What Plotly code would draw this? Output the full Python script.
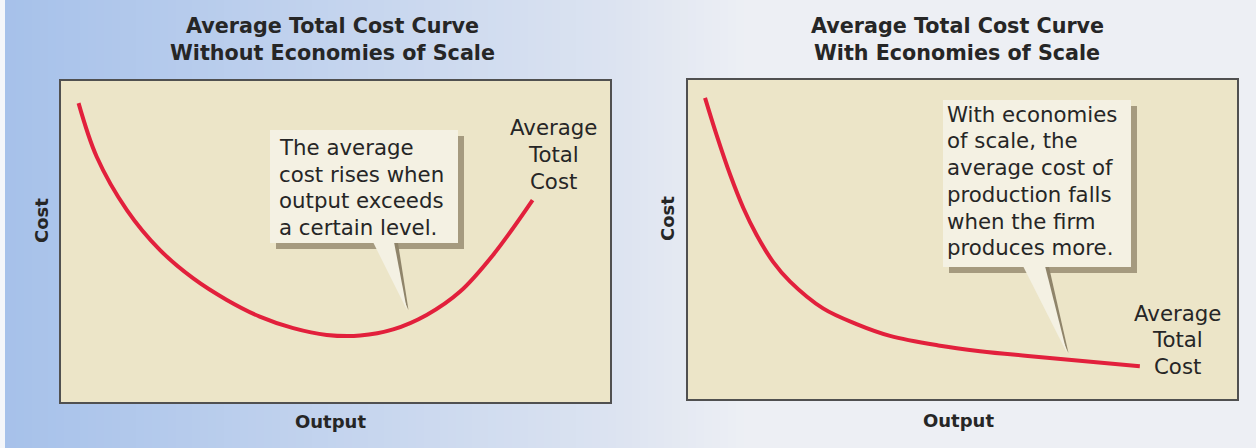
import plotly.graph_objects as go

# ---------------- data ----------------
# Left panel: U-shaped average total cost (no economies of scale)
left_output = [3.2, 6.5, 12.0, 18.0, 24.1, 30.2, 36.2, 42.3, 48.4, 54.5, 60.5, 66.6, 72.7, 78.7, 85.9]
left_cost = [93.1, 76.4, 59.8, 47.4, 38.5, 31.8, 26.6, 23.0, 20.9, 20.7, 22.6, 27.1, 34.4, 45.8, 62.9]

# Right panel: falling average total cost (economies of scale)
right_output = [3.1, 5.2, 7.7, 10.1, 12.5, 15.5, 18.6, 24.6, 30.7, 36.8, 45.6, 53.2, 61.9, 82.3]
right_cost = [94.4, 82.8, 70.2, 59.8, 51.4, 43.0, 36.8, 28.4, 23.5, 19.8, 16.8, 15.0, 13.5, 10.3]

title_lines = [["Average Total Cost Curve", "Without Economies of Scale"],
               ["Average Total Cost Curve", "With Economies of Scale"]]
callout_lines = [["The average", "cost rises when", "output exceeds", "a certain level."],
                 ["With economies", "of scale, the", "average cost of", "production falls",
                  "when the firm", "produces more."]]
curve_label_lines = ["Average", "Total", "Cost"]
x_title = "Output"
y_title = "Cost"

# ---------------- layout helpers ----------------
W, H = 1256, 448


def px(x):
    return x / W


def py(y):
    return 1 - y / H


RED = "#e2203c"
PLOT_BG = "#ece5c8"
CALLOUT_BG = "#f4f1e3"
SHADOW = "#a59a7f"
TEXT = "#262626"
FRAME = "#505050"
FONT = "DejaVu Sans, Verdana, sans-serif"

fig = go.Figure()
fig.add_trace(go.Scatter(x=left_output, y=left_cost, mode="lines",
                         line=dict(color=RED, width=4, shape="spline", smoothing=1.0),
                         xaxis="x", yaxis="y", hoverinfo="skip", showlegend=False))
fig.add_trace(go.Scatter(x=right_output, y=right_cost, mode="lines",
                         line=dict(color=RED, width=4, shape="spline", smoothing=1.0),
                         xaxis="x2", yaxis="y2", hoverinfo="skip", showlegend=False))

shapes = []

# background gradient (blue on left fading to light grey on right)
c0 = (166, 193, 234)
c1 = (221, 228, 241)
c2 = (237, 239, 244)
step = 8
x = 0
while x < W:
    if x <= 620:
        t = x / 620
        c = tuple(int(round(a + (b - a) * t)) for a, b in zip(c0, c1))
    elif x <= 740:
        t = (x - 620) / 120
        c = tuple(int(round(a + (b - a) * t)) for a, b in zip(c1, c2))
    else:
        c = c2
    shapes.append(dict(type="rect", xref="paper", yref="paper", x0=px(x), x1=px(x + step + 1),
                       y0=0, y1=1, fillcolor="rgb(%d,%d,%d)" % c, line=dict(width=0),
                       layer="below"))
    x += step
shapes.append(dict(type="rect", xref="paper", yref="paper", x0=0, x1=px(5), y0=0, y1=1,
                   fillcolor="#f4f6fa", line=dict(width=0), layer="below"))

# beige plot areas
for xr, yr in [("x domain", "y domain"), ("x2 domain", "y2 domain")]:
    shapes.append(dict(type="rect", xref=xr, yref=yr, x0=0, x1=1, y0=0, y1=1,
                       fillcolor=PLOT_BG, line=dict(width=0), layer="below"))


def callout(box, base, tip):
    x0, y0, x1, y1 = box
    sh = 6
    out = []
    out.append(dict(type="rect", xref="paper", yref="paper",
                    x0=px(x0 + sh), x1=px(x1 + sh), y0=py(y0 + sh), y1=py(y1 + sh),
                    fillcolor=SHADOW, line=dict(width=0), layer="above"))
    bl, br = base
    out.append(dict(type="path", xref="paper", yref="paper",
                    path="M %f,%f L %f,%f L %f,%f Z" % (px(bl + 4), py(y1), px(br + 4), py(y1),
                                                        px(tip[0] + 1.5), py(tip[1])),
                    fillcolor="#8f846a", line=dict(width=0), layer="above"))
    out.append(dict(type="rect", xref="paper", yref="paper",
                    x0=px(x0), x1=px(x1), y0=py(y0), y1=py(y1),
                    fillcolor=CALLOUT_BG, line=dict(width=0), layer="above"))
    out.append(dict(type="path", xref="paper", yref="paper",
                    path="M %f,%f L %f,%f L %f,%f Z" % (px(bl), py(y1 - 1), px(br), py(y1 - 1),
                                                        px(tip[0]), py(tip[1])),
                    fillcolor=CALLOUT_BG, line=dict(width=0), layer="above"))
    return out


shapes += callout((270, 130, 458, 243), (373, 394), (407, 310))
shapes += callout((943, 100, 1131, 267), (1023, 1045), (1067, 353))

axis_common = dict(range=[0, 100], showgrid=False, zeroline=False, showticklabels=False,
                   ticks="", showline=True, linecolor=FRAME, linewidth=1.5, mirror=True,
                   fixedrange=True)

fig.update_layout(
    width=W, height=H,
    margin=dict(l=0, r=0, t=0, b=0),
    paper_bgcolor="#eeeff3",
    plot_bgcolor="rgba(0,0,0,0)",
    showlegend=False,
    xaxis=dict(domain=[px(61), px(610)], anchor="y", **axis_common),
    yaxis=dict(domain=[py(402), py(81)], anchor="x", **axis_common),
    xaxis2=dict(domain=[px(688), px(1237)], anchor="y2", **axis_common),
    yaxis2=dict(domain=[py(399), py(80)], anchor="x2", **axis_common),
    shapes=shapes,
)

ann = []


def line_ann(text, x, y, size, bold=False, xanchor="center", angle=0):
    return dict(text=text, x=px(x), y=py(y), xref="paper", yref="paper",
                xanchor=xanchor, yanchor="middle", showarrow=False, textangle=angle,
                font=dict(family=FONT, size=size, color=TEXT,
                          weight="bold" if bold else "normal"))


# titles
for lines, cx in zip(title_lines, [332, 957]):
    for i, t in enumerate(lines):
        ann.append(line_ann(t, cx, 25.5 + 27 * i, 20.7, bold=True))
# axis titles
for cx, cy in [(330, 421), (958, 420)]:
    ann.append(line_ann(x_title, cx, cy, 18, bold=True))
for cx, cy in [(41, 221), (667, 219)]:
    ann.append(line_ann(y_title, cx, cy, 18, bold=True, angle=-90))
# callout texts
for i, t in enumerate(callout_lines[0]):
    ann.append(line_ann(t, 277, 147.5 + 26.7 * i, 21.3, xanchor="left"))
for i, t in enumerate(callout_lines[1]):
    ann.append(line_ann(t, 945, 114.2 + 26.7 * i, 21.3, xanchor="left"))
# curve labels
for cx, cy0 in [(553, 127.5), (1177, 313)]:
    for i, t in enumerate(curve_label_lines):
        ann.append(line_ann(t, cx, cy0 + 26.8 * i, 21.3))

fig.update_layout(annotations=ann)
fig.write_html("out.html", config={"displayModeBar": False},
               post_script="document.body.style.margin='0';")
